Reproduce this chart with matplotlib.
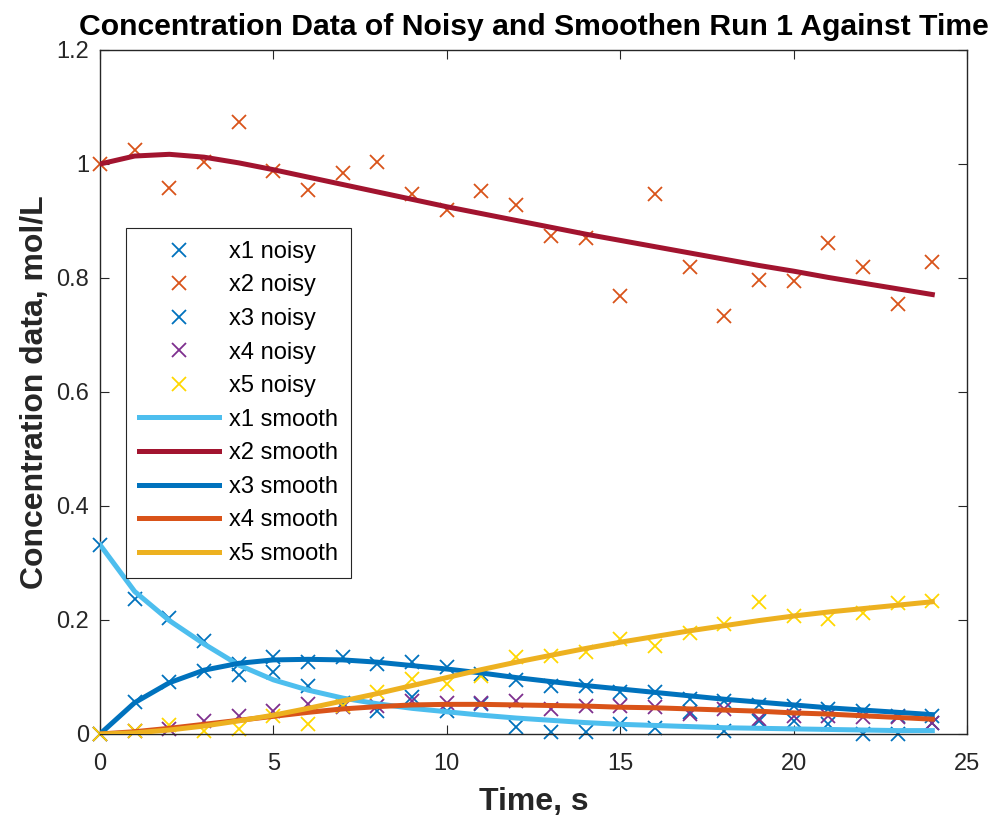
import numpy as np
import matplotlib
matplotlib.use("Agg")
import matplotlib.pyplot as plt
from matplotlib.ticker import FuncFormatter

plt.rcParams["font.family"] = ["Liberation Sans", "DejaVu Sans"]

# ── data ─────────────────────────────────────────────────────────────────
t = np.arange(0, 25)

x1_noisy = [0.332, 0.237, 0.203, 0.163, 0.104, 0.108, 0.085, 0.055, 0.040, 0.065,
            0.040, 0.053, 0.012, 0.003, 0.003, 0.018, 0.010, 0.039, 0.006, 0.023,
            0.022, 0.018, 0.000, 0.000, 0.020]
x2_noisy = [1.000, 1.025, 0.958, 1.003, 1.073, 0.987, 0.955, 0.985, 1.003, 0.947,
            0.920, 0.953, 0.928, 0.873, 0.870, 0.768, 0.947, 0.820, 0.733, 0.797,
            0.795, 0.862, 0.820, 0.755, 0.828]
x3_noisy = [0.000, 0.056, 0.091, 0.111, 0.123, 0.135, 0.126, 0.135, 0.123, 0.126,
            0.117, 0.105, 0.094, 0.085, 0.085, 0.074, 0.073, 0.061, 0.058, 0.051,
            0.050, 0.044, 0.041, 0.032, 0.032]
x4_noisy = [0.000, 0.005, 0.009, 0.023, 0.032, 0.041, 0.053, 0.047, 0.050, 0.058,
            0.055, 0.055, 0.058, 0.044, 0.050, 0.050, 0.047, 0.035, 0.044, 0.026,
            0.032, 0.032, 0.029, 0.029, 0.020]
x5_noisy = [0.000, 0.006, 0.015, 0.006, 0.009, 0.032, 0.018, 0.050, 0.073, 0.096,
            0.088, 0.102, 0.135, 0.137, 0.143, 0.167, 0.155, 0.178, 0.193, 0.231,
            0.207, 0.202, 0.212, 0.230, 0.234]

x1_smooth = [0.332, 0.250, 0.199, 0.158, 0.121, 0.095, 0.077, 0.063, 0.053, 0.045,
             0.039, 0.033, 0.028, 0.024, 0.020, 0.017, 0.015, 0.013, 0.011, 0.010,
             0.009, 0.008, 0.007, 0.006, 0.006]
x2_smooth = [1.000, 1.014, 1.017, 1.012, 1.002, 0.990, 0.977, 0.964, 0.951, 0.938,
             0.925, 0.913, 0.901, 0.889, 0.877, 0.866, 0.855, 0.844, 0.833, 0.822,
             0.812, 0.801, 0.791, 0.781, 0.771]
x3_smooth = [0.000, 0.055, 0.090, 0.112, 0.124, 0.130, 0.131, 0.130, 0.126, 0.120,
             0.114, 0.107, 0.099, 0.092, 0.085, 0.079, 0.073, 0.067, 0.061, 0.056,
             0.051, 0.046, 0.042, 0.038, 0.034]
x4_smooth = [0.000, 0.004, 0.010, 0.017, 0.024, 0.031, 0.038, 0.044, 0.048, 0.051,
             0.052, 0.052, 0.051, 0.050, 0.049, 0.047, 0.046, 0.044, 0.042, 0.040,
             0.037, 0.035, 0.032, 0.029, 0.026]
x5_smooth = [0.000, 0.002, 0.007, 0.014, 0.023, 0.033, 0.045, 0.058, 0.071, 0.085,
             0.099, 0.113, 0.126, 0.138, 0.150, 0.161, 0.171, 0.181, 0.190, 0.199,
             0.207, 0.214, 0.220, 0.226, 0.232]

noisy = [x1_noisy, x2_noisy, x3_noisy, x4_noisy, x5_noisy]
smooth = [x1_smooth, x2_smooth, x3_smooth, x4_smooth, x5_smooth]
noisy_labels = ["x1 noisy", "x2 noisy", "x3 noisy", "x4 noisy", "x5 noisy"]
smooth_labels = ["x1 smooth", "x2 smooth", "x3 smooth", "x4 smooth", "x5 smooth"]

noisy_colors = ["#0072BD", "#D95319", "#0072BD", "#7E2F8E", "#FFD700"]
smooth_colors = ["#4DBEEE", "#A2142F", "#0072BD", "#D95319", "#EDB120"]

# ── figure ───────────────────────────────────────────────────────────────
fig = plt.figure(figsize=(9.89, 8.18), dpi=100)
ax = fig.add_axes([100 / 989, 84 / 818, 867 / 989, 684 / 818])

# noisy markers first, smoothed curves drawn on top
for y, c, lab in zip(noisy, noisy_colors, noisy_labels):
    ax.plot(t, y, linestyle="none", marker="x", markersize=10,
            markeredgewidth=1.3, color=c, label=lab, clip_on=False, zorder=2)
for y, c, lab in zip(smooth, smooth_colors, smooth_labels):
    ax.plot(t, y, color=c, linewidth=3.6, label=lab, zorder=3)

ax.set_xlim(0, 25)
ax.set_ylim(0, 1.2)
ax.set_xticks(np.arange(0, 26, 5))
ax.set_yticks(np.arange(0, 1.21, 0.2))
ax.yaxis.set_major_formatter(FuncFormatter(lambda v, p: f"{v:g}"))
ax.tick_params(direction="in", length=6.5, width=0.8, labelsize=17,
               colors="#262626", top=True, right=True, pad=8)
ax.tick_params(axis="x", pad=14)
for s in ax.spines.values():
    s.set_color("#262626")
    s.set_linewidth(1.0)

ax.set_title("Concentration Data of Noisy and Smoothen Run 1 Against Time",
             fontsize=21.7, fontweight="bold", pad=10.5)
ax.set_xlabel("Time, s", fontsize=23, fontweight="bold", color="#262626",
              labelpad=8)
ax.set_ylabel("Concentration data, mol/L", fontsize=23, fontweight="bold",
              color="#262626")

leg = ax.legend(loc="upper left", bbox_to_anchor=(0.030, 0.740), fontsize=17,
                handlelength=3.4, labelspacing=0.49, borderpad=0.55,
                handletextpad=0.4, fancybox=False, framealpha=1,
                edgecolor="#262626", borderaxespad=0)
leg.get_frame().set_linewidth(0.8)

fig.savefig("out.png", dpi=100)
